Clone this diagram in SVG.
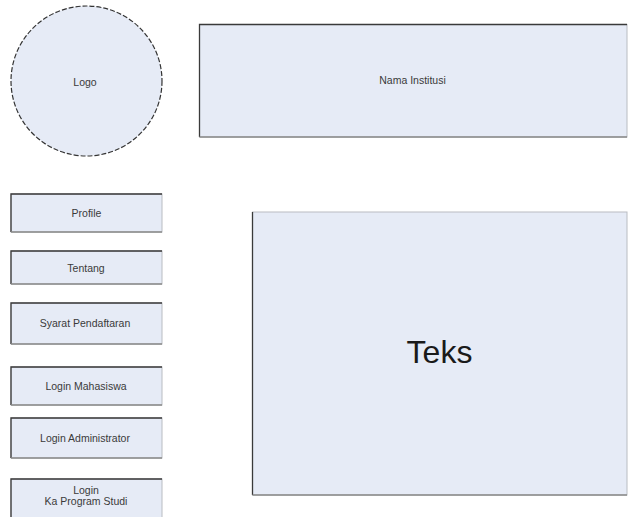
<svg xmlns="http://www.w3.org/2000/svg" width="634" height="517" viewBox="0 0 634 517">
<style>
.box{fill:#e6ebf6;stroke:#b9bcc2;stroke-width:1}
.tl{fill:none;stroke:#3a3a3a;stroke-width:1.3}
.bt{fill:none;stroke:#8a8a8a;stroke-width:1.3}
.lbl{font-family:"Liberation Sans",Arial,sans-serif;font-size:10.5px;fill:#3a3a3a;text-anchor:middle}
</style>
<rect width="634" height="517" fill="#ffffff"/>
<g id="logo">
<ellipse cx="86.5" cy="81" rx="75.5" ry="75" fill="#e6ebf6" stroke="#333" stroke-width="1.2" stroke-dasharray="5 2"/>
<text class="lbl" x="85" y="86">Logo</text>
</g>
<g id="nama-institusi">
<rect class="box" x="199.5" y="24.5" width="427.5" height="112.5"/>
<path class="tl" d="M199.5,137 V24.5 H627"/>
<path class="bt" d="M199.5,137 H627"/>
<text class="lbl" x="412.5" y="84">Nama Institusi</text>
</g>
<g id="profile">
<rect class="box" x="11" y="194" width="151" height="38"/>
<path class="tl" d="M11,232 V194 H162"/>
<path class="bt" d="M11,232 H162"/>
<text class="lbl" x="86.5" y="217">Profile</text>
</g>
<g id="tentang">
<rect class="box" x="11" y="251" width="151" height="33"/>
<path class="tl" d="M11,284 V251 H162"/>
<path class="bt" d="M11,284 H162"/>
<text class="lbl" x="86" y="272">Tentang</text>
</g>
<g id="syarat">
<rect class="box" x="11" y="303" width="151" height="41"/>
<path class="tl" d="M11,344 V303 H162"/>
<path class="bt" d="M11,344 H162"/>
<text class="lbl" x="85" y="327">Syarat Pendaftaran</text>
</g>
<g id="login-mahasiswa">
<rect class="box" x="11" y="367" width="151" height="38"/>
<path class="tl" d="M11,405 V367 H162"/>
<path class="bt" d="M11,405 H162"/>
<text class="lbl" x="86" y="390">Login Mahasiswa</text>
</g>
<g id="login-administrator">
<rect class="box" x="11" y="418" width="151" height="40"/>
<path class="tl" d="M11,458 V418 H162"/>
<path class="bt" d="M11,458 H162"/>
<text class="lbl" x="85" y="442">Login Administrator</text>
</g>
<g id="login-kaprodi">
<rect class="box" x="11" y="479" width="151" height="45"/>
<path class="tl" d="M11,517 V479 H162"/>
<text class="lbl" x="86" y="494">Login</text>
<text class="lbl" x="86" y="505">Ka Program Studi</text>
</g>
<g id="teks">
<rect class="box" x="252.5" y="212" width="374.5" height="283"/>
<path class="tl" d="M252.5,495 V212"/>
<path class="bt" d="M252.5,495 H627"/>
<text x="439.5" y="363" style="font-family:'Liberation Sans',Arial,sans-serif;font-size:32px;fill:#1a1a1a;text-anchor:middle">Teks</text>
</g>
<g id="connectors"/>
</svg>
